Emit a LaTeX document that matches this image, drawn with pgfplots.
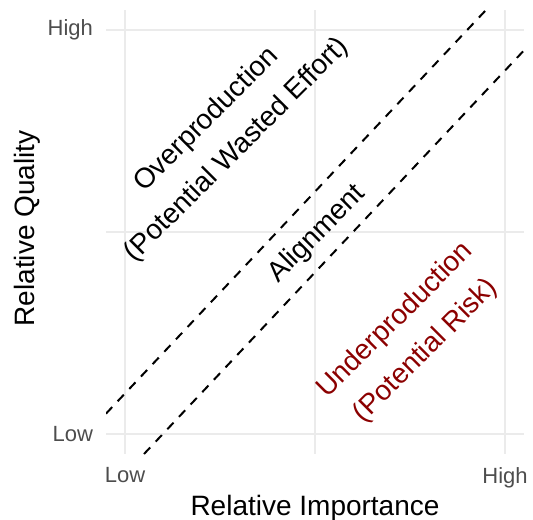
\documentclass[border=0pt]{standalone}
\usepackage{fontspec}
\setmainfont{Liberation Sans}
\usepackage{pgfplots}
\pgfplotsset{compat=1.18}
\definecolor{gridc}{HTML}{EBEBEB}
\definecolor{tickc}{HTML}{4D4D4D}
\definecolor{darkred}{HTML}{8B0000}
\begin{document}
\begin{tikzpicture}
\begin{axis}[
  scale only axis, width=209pt, height=222pt,
  xmin=-0.05, xmax=1.05, ymin=-0.05, ymax=1.05,
  axis line style={draw=none},
  xtick={0,1}, xticklabels={Low,High},
  ytick={0,1}, yticklabels={Low,High},
  minor xtick={0.5}, minor ytick={0.5},
  major tick length=0pt, minor tick length=0pt,
  grid=both,
  major grid style={gridc, line width=1.1pt},
  minor grid style={gridc, line width=0.7pt},
  tick label style={font=\fontsize{11}{13}\selectfont, text=tickc},
  xticklabel style={yshift=-3pt},
  yticklabel style={xshift=-3pt},
  xlabel={Relative Importance}, ylabel={Relative Quality},
  label style={font=\fontsize{14}{16}\selectfont},
  xlabel style={at={(axis description cs:0.5,-0.1374)}, anchor=base},
  ylabel style={at={(axis description cs:-0.1878,0.508)}, anchor=center},
  clip=true,
]
\addplot[black, line width=1pt, dash pattern=on 4.5pt off 4pt] coordinates {(-0.05,0.05) (0.95,1.05)};
\addplot[black, line width=1pt, dash pattern=on 4.5pt off 4pt] coordinates {(0.05,-0.05) (1.05,0.95)};
\node[rotate=45, align=center, font=\fontsize{14}{21.5}\selectfont] at (axis cs:0.255,0.74) {Overproduction\\(Potential Wasted Effort)};
\node[rotate=45, align=center, font=\fontsize{14}{21.5}\selectfont] at (axis cs:0.505,0.495) {Alignment};
\node[rotate=45, align=center, text=darkred, font=\fontsize{14}{21.5}\selectfont] at (axis cs:0.752,0.243) {Underproduction\\(Potential Risk)};
\end{axis}
\pgfresetboundingbox
\path[use as bounding box] (current axis.south west) ++(-53pt,-32.5pt) rectangle ([xshift=4.5pt,yshift=5pt]current axis.north east);
\end{tikzpicture}
\end{document}
